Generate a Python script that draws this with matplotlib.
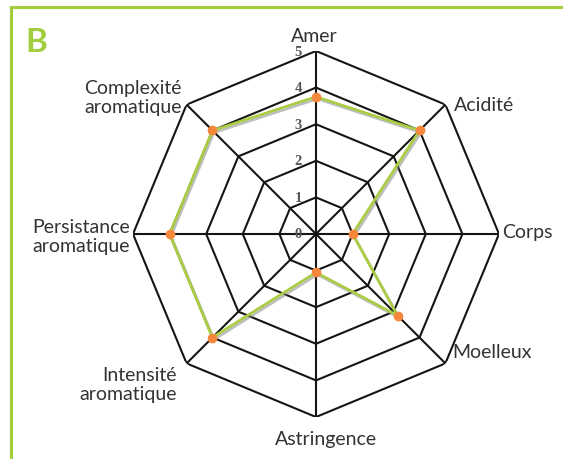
import numpy as np
import matplotlib
matplotlib.use("Agg")
import matplotlib.pyplot as plt
import matplotlib.patheffects as pe
from matplotlib.lines import Line2D

# Données du graphique radar
criteres = ["Amer", "Acidité", "Corps", "Moelleux", "Astringence",
            "Intensité\naromatique", "Persistance\naromatique", "Complexité\naromatique"]
valeurs = [3.75, 4.0, 1.0, 3.15, 1.05, 4.0, 4.0, 4.0]
niveaux = [1, 2, 3, 4, 5]
etiquettes_niveaux = ["0", "1", "2", "3", "4", "5"]

vert = "#a2cd3c"
vert_ligne = "#aacd45"
orange = "#f5883c"
gris_texte = "#333333"

plt.rcParams['font.family'] = ['Lato', 'DejaVu Sans']

fig = plt.figure(figsize=(5.63, 4.60), dpi=100)
fig.patch.set_facecolor("white")

# centre (316, 235) px, rayon 183 px
ax = fig.add_axes([133 / 563, 42 / 460, 366 / 563, 366 / 460], projection="polar")
ax.set_theta_offset(np.pi / 2)
ax.set_theta_direction(-1)
ax.set_ylim(0, 5)
ax.grid(False)
ax.set_xticks([])
ax.set_yticks([])
ax.spines['polar'].set_visible(False)
ax.patch.set_visible(False)

n = len(criteres)
angles = np.arange(n) * 2 * np.pi / n
angles_fermes = np.append(angles, angles[0])

# Octogones de la grille
for r in niveaux:
    ax.plot(angles_fermes, [r] * (n + 1), color="#151515", lw=1.5, zorder=1)

# Rayons
for a in angles:
    ax.plot([a, a], [0, niveaux[-1]], color="#151515", lw=1.5, zorder=1)

# Graduations 0..5
for i, lab in enumerate(etiquettes_niveaux):
    ax.annotate(lab, xy=(0, i), xytext=(-18, 0), textcoords="offset pixels",
                ha="center", va="center", fontsize=10.5, color="#555555",
                family="Liberation Serif", fontweight="bold", zorder=2)

# Série de données
v = np.append(valeurs, valeurs[0])
ax.plot(angles_fermes, v, color=vert_ligne, lw=2, zorder=3,
        path_effects=[pe.SimpleLineShadow(offset=(1, -1.5), shadow_color="gray", alpha=0.5),
                      pe.Normal()])
ax.plot(angles, valeurs, "o", color=orange, ms=6, mec=orange, zorder=4)

# Étiquettes des axes (décalage en pixels depuis le sommet)
decalages = [(-2, 15, "center"), (9, 0, "left"), (3, 2, "left"), (7, 12, "left"),
             (10, -22, "center"), (-10, -21, "right"), (-3, -2, "right"), (-5, 8, "right")]
for a, lab, (dx, dy, ha) in zip(angles, criteres, decalages):
    ax.annotate(lab, xy=(a, niveaux[-1]), xytext=(dx, dy), textcoords="offset pixels",
                ha=ha, va="center", multialignment=ha if ha != "center" else "center",
                fontsize=14, color=gris_texte, linespacing=1.15,
                annotation_clip=False)

# Cadre vert et lettre B
fig.add_artist(Line2D([10.5 / 563, 1], [1 - 7.7 / 460, 1 - 7.7 / 460],
                      transform=fig.transFigure, color=vert, lw=2.2))
fig.add_artist(Line2D([10.5 / 563, 10.5 / 563], [0, 1 - 7.7 / 460],
                      transform=fig.transFigure, color=vert, lw=2.2))
fig.text(36 / 563, 1 - 42 / 460, "B", ha="center", va="center",
         fontsize=24, fontweight="bold", color=vert)

fig.savefig("out.png", dpi=100)
